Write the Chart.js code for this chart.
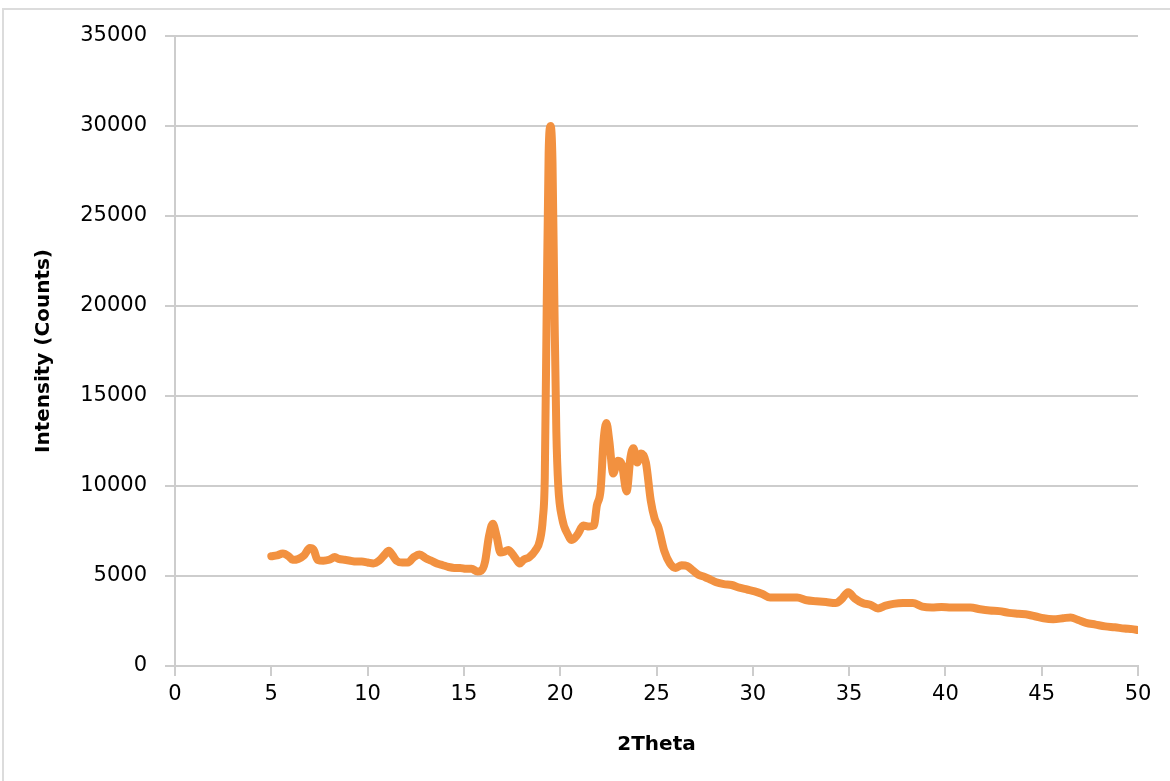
<!DOCTYPE html>
<html lang="en">
<head>
  <meta charset="UTF-8" />
  <title>2Theta scan</title>
  <style>
    body {
      margin: 0;
      padding: 0;
      background: #fff;
      overflow: hidden;
    }
    /* thin grey frame, only left and top edges show in the picture */
    .frame {
      position: absolute;
      left: 2px;
      top: 8px;
      width: 1300px;
      height: 900px;
      border-left: 2px solid #dcdcdc;
      border-top: 2px solid #dcdcdc;
    }
    #xrdChart {
      position: absolute;
      left: 0;
      top: 0;
    }
  </style>
  <script src="https://cdn.jsdelivr.net/npm/chart.js"></script>
</head>
<body>
  <div class="frame"></div>
  <canvas id="xrdChart" width="1170" height="781"></canvas>

  <script>
    // data
    const twoTheta = [
      5.0, 5.3, 5.6, 5.9, 6.1, 6.4, 6.7, 7.0, 7.2, 7.4, 7.7, 8.0, 8.3, 8.5, 8.8,
      9.1, 9.4, 9.7, 10.0, 10.3, 10.6, 10.9, 11.1, 11.3, 11.5, 11.8, 12.1, 12.4,
      12.7, 13.0, 13.3, 13.6, 13.9, 14.2, 14.5, 14.8, 15.1, 15.4, 15.7, 15.9,
      16.1, 16.3, 16.5, 16.7, 16.9, 17.1, 17.3, 17.5, 17.7, 17.9, 18.1, 18.4,
      18.7, 18.95, 19.1, 19.2, 19.3, 19.4, 19.5, 19.6, 19.7, 19.8, 19.9, 20.1,
      20.4, 20.6, 20.9, 21.2, 21.5, 21.75, 21.9, 22.1, 22.25, 22.4, 22.55, 22.75,
      23.0, 23.2, 23.45, 23.65, 23.8, 24.0, 24.2, 24.45, 24.7, 24.9, 25.1, 25.4,
      25.7, 26.0, 26.3, 26.6, 26.9, 27.2, 27.5, 27.8, 28.1, 28.5, 28.9, 29.3,
      29.7, 30.1, 30.5, 30.9, 31.3, 31.8, 32.3, 32.8, 33.3, 33.8, 34.3, 34.6,
      34.95, 35.3, 35.7, 36.1, 36.5, 36.9, 37.3, 37.8, 38.3, 38.8, 39.3, 39.8,
      40.3, 40.8, 41.3, 41.8, 42.3, 42.8, 43.3, 43.8, 44.3, 44.7, 45.1, 45.6,
      46.1, 46.5, 46.9, 47.3, 47.8, 48.3, 48.8, 49.3, 49.7, 50.0
    ];
    const counts = [
      6100, 6150, 6250, 6100, 5900, 5950, 6150, 6550, 6450, 5900, 5850, 5900, 6050, 5950, 5900,
      5850, 5800, 5800, 5750, 5700, 5850, 6200, 6400, 6150, 5850, 5750, 5750, 6050,
      6200, 6000, 5850, 5700, 5600, 5500, 5450, 5450, 5400, 5400, 5250, 5300,
      5800, 7200, 7900, 7200, 6300, 6350, 6450, 6250, 5950, 5700, 5900, 6050,
      6400, 7000, 8200, 10500, 20000, 28500, 30000, 28000, 20000, 13000, 10000, 8200,
      7300, 7000, 7300, 7800, 7750, 7800, 8900, 9800, 12500, 13500, 12500, 10700,
      11400, 11200, 9700, 11600, 12100, 11300, 11800, 11300, 9200, 8200, 7700, 6400,
      5700, 5450, 5600, 5550, 5300, 5050, 4950, 4800, 4650, 4550, 4500, 4350,
      4250, 4150, 4000, 3800, 3800, 3800, 3800, 3650, 3600, 3550, 3500, 3700,
      4100, 3750, 3500, 3400, 3200, 3350, 3450, 3500, 3500, 3300, 3250, 3280,
      3250, 3250, 3250, 3150, 3080, 3050, 2950, 2900, 2850, 2750, 2650, 2600,
      2650, 2700, 2550, 2400, 2300, 2200, 2150, 2080, 2050, 2000
    ];
    const xTicks = [0, 5, 10, 15, 20, 25, 30, 35, 40, 45, 50];
    const yTicks = [0, 5000, 10000, 15000, 20000, 25000, 30000, 35000];

    const points = twoTheta.map((x, i) => ({ x: x, y: counts[i] }));

    const tickFont = { family: 'DejaVu Sans', size: 21 };
    const titleFont = { family: 'DejaVu Sans', size: 20, weight: 'bold' };
    const axisGrey = '#cdcdcd';

    new Chart(document.getElementById('xrdChart'), {
      type: 'scatter',
      data: {
        datasets: [{
          data: points,
          showLine: true,
          borderColor: '#F29140',
          borderWidth: 8,
          pointRadius: 0,
          cubicInterpolationMode: 'monotone',
          borderJoinStyle: 'round',
          borderCapStyle: 'round'
        }]
      },
      options: {
        responsive: false,
        animation: false,
        layout: { padding: { left: 0, top: 36, right: 32, bottom: 0 } },
        plugins: {
          legend: { display: false },
          tooltip: { enabled: false }
        },
        scales: {
          x: {
            type: 'linear',
            min: 0,
            max: 50,
            afterBuildTicks: (axis) => { axis.ticks = xTicks.map(v => ({ value: v })); },
            afterFit: (axis) => { axis.height = 115; },
            ticks: { font: tickFont, color: '#000', padding: 6, maxRotation: 0 },
            grid: { drawOnChartArea: false, drawTicks: true, tickLength: 10, color: axisGrey, lineWidth: 2 },
            border: { color: axisGrey, width: 2 },
            title: { display: true, text: '2Theta', font: titleFont, color: '#000', padding: { top: 0, bottom: 24 } }
          },
          y: {
            min: 0,
            max: 35000,
            afterBuildTicks: (axis) => { axis.ticks = yTicks.map(v => ({ value: v })); },
            afterFit: (axis) => { axis.width = 175; },
            ticks: { font: tickFont, color: '#000', padding: 18, callback: (v) => String(v) },
            grid: { tickLength: 10, color: axisGrey, lineWidth: 2 },
            border: { color: axisGrey, width: 2 },
            title: { display: true, text: 'Intensity (Counts)', font: titleFont, color: '#000', padding: { top: 32, bottom: 0 } }
          }
        }
      }
    });
  </script>
</body>
</html>
